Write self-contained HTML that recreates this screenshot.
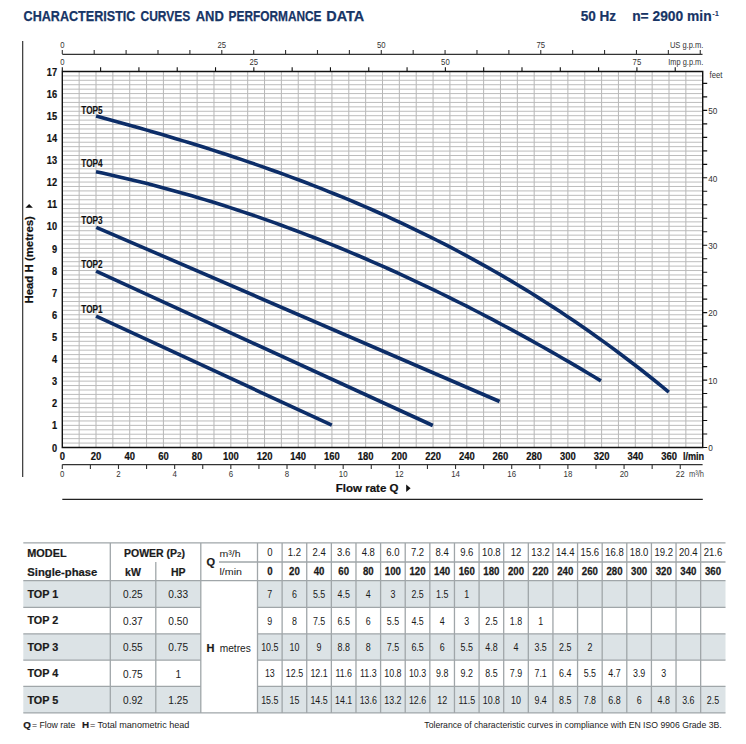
<!DOCTYPE html><html><head><meta charset="utf-8"><style>html,body{margin:0;padding:0;background:#fff;width:746px;height:744px;overflow:hidden}svg{display:block}text{font-family:"Liberation Sans",sans-serif}</style></head><body>
<svg width="746" height="744" viewBox="0 0 746 744">
<rect width="746" height="744" fill="#fff"/>
<text x="23.6" y="20.8" font-size="14.4" font-weight="bold" fill="#173566" stroke="#173566" stroke-width="0.25" textLength="111.8" lengthAdjust="spacingAndGlyphs">CHARACTERISTIC</text>
<text x="140.5" y="20.8" font-size="14.4" font-weight="bold" fill="#173566" stroke="#173566" stroke-width="0.25" textLength="49.8" lengthAdjust="spacingAndGlyphs">CURVES</text>
<text x="195.7" y="20.8" font-size="14.4" font-weight="bold" fill="#173566" stroke="#173566" stroke-width="0.25" textLength="28.1" lengthAdjust="spacingAndGlyphs">AND</text>
<text x="228.6" y="20.8" font-size="14.4" font-weight="bold" fill="#173566" stroke="#173566" stroke-width="0.25" textLength="92.9" lengthAdjust="spacingAndGlyphs">PERFORMANCE</text>
<text x="326.3" y="20.8" font-size="14.4" font-weight="bold" fill="#173566" stroke="#173566" stroke-width="0.25" textLength="37.9" lengthAdjust="spacingAndGlyphs">DATA</text>
<text x="580.7" y="20.6" font-size="13.8" font-weight="bold" fill="#173566" stroke="#173566" stroke-width="0.2" textLength="35.4" lengthAdjust="spacingAndGlyphs">50 Hz</text>
<text x="632.2" y="20.6" font-size="13.8" font-weight="bold" fill="#173566" stroke="#173566" stroke-width="0.2" textLength="79.4" lengthAdjust="spacingAndGlyphs">n= 2900 min</text>
<text x="712.3" y="15.8" font-size="7.5" font-weight="bold" fill="#173566">-1</text>
<line x1="22.65" y1="41" x2="22.65" y2="477" stroke="#444" stroke-width="1.3"/>
<path d="M79.15 71.46V447.50 M96.01 71.46V447.50 M112.86 71.46V447.50 M129.71 71.46V447.50 M146.56 71.46V447.50 M163.42 71.46V447.50 M180.27 71.46V447.50 M197.12 71.46V447.50 M213.98 71.46V447.50 M230.83 71.46V447.50 M247.68 71.46V447.50 M264.54 71.46V447.50 M281.39 71.46V447.50 M298.24 71.46V447.50 M315.10 71.46V447.50 M331.95 71.46V447.50 M348.80 71.46V447.50 M365.65 71.46V447.50 M382.51 71.46V447.50 M399.36 71.46V447.50 M416.21 71.46V447.50 M433.07 71.46V447.50 M449.92 71.46V447.50 M466.77 71.46V447.50 M483.62 71.46V447.50 M500.48 71.46V447.50 M517.33 71.46V447.50 M534.18 71.46V447.50 M551.04 71.46V447.50 M567.89 71.46V447.50 M584.74 71.46V447.50 M601.60 71.46V447.50 M618.45 71.46V447.50 M635.30 71.46V447.50 M652.15 71.46V447.50 M669.01 71.46V447.50 M685.86 71.46V447.50" stroke="#b3b3b3" stroke-width="0.95" fill="none"/>
<path d="M62.30 443.08H702.71 M62.30 438.65H702.71 M62.30 434.23H702.71 M62.30 429.80H702.71 M62.30 425.38H702.71 M62.30 420.96H702.71 M62.30 416.53H702.71 M62.30 412.11H702.71 M62.30 407.68H702.71 M62.30 403.26H702.71 M62.30 398.84H702.71 M62.30 394.41H702.71 M62.30 389.99H702.71 M62.30 385.56H702.71 M62.30 381.14H702.71 M62.30 376.72H702.71 M62.30 372.29H702.71 M62.30 367.87H702.71 M62.30 363.44H702.71 M62.30 359.02H702.71 M62.30 354.60H702.71 M62.30 350.17H702.71 M62.30 345.75H702.71 M62.30 341.32H702.71 M62.30 336.90H702.71 M62.30 332.48H702.71 M62.30 328.05H702.71 M62.30 323.63H702.71 M62.30 319.20H702.71 M62.30 314.78H702.71 M62.30 310.36H702.71 M62.30 305.93H702.71 M62.30 301.51H702.71 M62.30 297.08H702.71 M62.30 292.66H702.71 M62.30 288.24H702.71 M62.30 283.81H702.71 M62.30 279.39H702.71 M62.30 274.96H702.71 M62.30 270.54H702.71 M62.30 266.12H702.71 M62.30 261.69H702.71 M62.30 257.27H702.71 M62.30 252.84H702.71 M62.30 248.42H702.71 M62.30 244.00H702.71 M62.30 239.57H702.71 M62.30 235.15H702.71 M62.30 230.72H702.71 M62.30 226.30H702.71 M62.30 221.88H702.71 M62.30 217.45H702.71 M62.30 213.03H702.71 M62.30 208.60H702.71 M62.30 204.18H702.71 M62.30 199.76H702.71 M62.30 195.33H702.71 M62.30 190.91H702.71 M62.30 186.48H702.71 M62.30 182.06H702.71 M62.30 177.64H702.71 M62.30 173.21H702.71 M62.30 168.79H702.71 M62.30 164.36H702.71 M62.30 159.94H702.71 M62.30 155.52H702.71 M62.30 151.09H702.71 M62.30 146.67H702.71 M62.30 142.24H702.71 M62.30 137.82H702.71 M62.30 133.40H702.71 M62.30 128.97H702.71 M62.30 124.55H702.71 M62.30 120.12H702.71 M62.30 115.70H702.71 M62.30 111.28H702.71 M62.30 106.85H702.71 M62.30 102.43H702.71 M62.30 98.00H702.71 M62.30 93.58H702.71 M62.30 89.16H702.71 M62.30 84.73H702.71 M62.30 80.31H702.71 M62.30 75.88H702.71" stroke="#b8b8b8" stroke-width="0.95" fill="none"/>
<path d="M62.30 71.46H702.71V447.50H62.30Z" stroke="#111" stroke-width="1.4" fill="none"/>
<text transform="translate(57.1 451.60) scale(0.84 1)" text-anchor="end" font-size="11" font-weight="bold" fill="#111" stroke="#111" stroke-width="0.2">0</text>
<text transform="translate(57.1 429.48) scale(0.84 1)" text-anchor="end" font-size="11" font-weight="bold" fill="#111" stroke="#111" stroke-width="0.2">1</text>
<text transform="translate(57.1 407.36) scale(0.84 1)" text-anchor="end" font-size="11" font-weight="bold" fill="#111" stroke="#111" stroke-width="0.2">2</text>
<text transform="translate(57.1 385.24) scale(0.84 1)" text-anchor="end" font-size="11" font-weight="bold" fill="#111" stroke="#111" stroke-width="0.2">3</text>
<text transform="translate(57.1 363.12) scale(0.84 1)" text-anchor="end" font-size="11" font-weight="bold" fill="#111" stroke="#111" stroke-width="0.2">4</text>
<text transform="translate(57.1 341.00) scale(0.84 1)" text-anchor="end" font-size="11" font-weight="bold" fill="#111" stroke="#111" stroke-width="0.2">5</text>
<text transform="translate(57.1 318.88) scale(0.84 1)" text-anchor="end" font-size="11" font-weight="bold" fill="#111" stroke="#111" stroke-width="0.2">6</text>
<text transform="translate(57.1 296.76) scale(0.84 1)" text-anchor="end" font-size="11" font-weight="bold" fill="#111" stroke="#111" stroke-width="0.2">7</text>
<text transform="translate(57.1 274.64) scale(0.84 1)" text-anchor="end" font-size="11" font-weight="bold" fill="#111" stroke="#111" stroke-width="0.2">8</text>
<text transform="translate(57.1 252.52) scale(0.84 1)" text-anchor="end" font-size="11" font-weight="bold" fill="#111" stroke="#111" stroke-width="0.2">9</text>
<text transform="translate(57.1 230.40) scale(0.84 1)" text-anchor="end" font-size="11" font-weight="bold" fill="#111" stroke="#111" stroke-width="0.2">10</text>
<text transform="translate(57.1 208.28) scale(0.84 1)" text-anchor="end" font-size="11" font-weight="bold" fill="#111" stroke="#111" stroke-width="0.2">11</text>
<text transform="translate(57.1 186.16) scale(0.84 1)" text-anchor="end" font-size="11" font-weight="bold" fill="#111" stroke="#111" stroke-width="0.2">12</text>
<text transform="translate(57.1 164.04) scale(0.84 1)" text-anchor="end" font-size="11" font-weight="bold" fill="#111" stroke="#111" stroke-width="0.2">13</text>
<text transform="translate(57.1 141.92) scale(0.84 1)" text-anchor="end" font-size="11" font-weight="bold" fill="#111" stroke="#111" stroke-width="0.2">14</text>
<text transform="translate(57.1 119.80) scale(0.84 1)" text-anchor="end" font-size="11" font-weight="bold" fill="#111" stroke="#111" stroke-width="0.2">15</text>
<text transform="translate(57.1 97.68) scale(0.84 1)" text-anchor="end" font-size="11" font-weight="bold" fill="#111" stroke="#111" stroke-width="0.2">16</text>
<text transform="translate(57.1 75.56) scale(0.84 1)" text-anchor="end" font-size="11" font-weight="bold" fill="#111" stroke="#111" stroke-width="0.2">17</text>
<text transform="translate(62.30 459.8) scale(0.86 1)" text-anchor="middle" font-size="11" font-weight="bold" fill="#111" stroke="#111" stroke-width="0.2">0</text>
<text transform="translate(96.01 459.8) scale(0.86 1)" text-anchor="middle" font-size="11" font-weight="bold" fill="#111" stroke="#111" stroke-width="0.2">20</text>
<text transform="translate(129.71 459.8) scale(0.86 1)" text-anchor="middle" font-size="11" font-weight="bold" fill="#111" stroke="#111" stroke-width="0.2">40</text>
<text transform="translate(163.42 459.8) scale(0.86 1)" text-anchor="middle" font-size="11" font-weight="bold" fill="#111" stroke="#111" stroke-width="0.2">60</text>
<text transform="translate(197.12 459.8) scale(0.86 1)" text-anchor="middle" font-size="11" font-weight="bold" fill="#111" stroke="#111" stroke-width="0.2">80</text>
<text transform="translate(230.83 459.8) scale(0.86 1)" text-anchor="middle" font-size="11" font-weight="bold" fill="#111" stroke="#111" stroke-width="0.2">100</text>
<text transform="translate(264.54 459.8) scale(0.86 1)" text-anchor="middle" font-size="11" font-weight="bold" fill="#111" stroke="#111" stroke-width="0.2">120</text>
<text transform="translate(298.24 459.8) scale(0.86 1)" text-anchor="middle" font-size="11" font-weight="bold" fill="#111" stroke="#111" stroke-width="0.2">140</text>
<text transform="translate(331.95 459.8) scale(0.86 1)" text-anchor="middle" font-size="11" font-weight="bold" fill="#111" stroke="#111" stroke-width="0.2">160</text>
<text transform="translate(365.65 459.8) scale(0.86 1)" text-anchor="middle" font-size="11" font-weight="bold" fill="#111" stroke="#111" stroke-width="0.2">180</text>
<text transform="translate(399.36 459.8) scale(0.86 1)" text-anchor="middle" font-size="11" font-weight="bold" fill="#111" stroke="#111" stroke-width="0.2">200</text>
<text transform="translate(433.07 459.8) scale(0.86 1)" text-anchor="middle" font-size="11" font-weight="bold" fill="#111" stroke="#111" stroke-width="0.2">220</text>
<text transform="translate(466.77 459.8) scale(0.86 1)" text-anchor="middle" font-size="11" font-weight="bold" fill="#111" stroke="#111" stroke-width="0.2">240</text>
<text transform="translate(500.48 459.8) scale(0.86 1)" text-anchor="middle" font-size="11" font-weight="bold" fill="#111" stroke="#111" stroke-width="0.2">260</text>
<text transform="translate(534.18 459.8) scale(0.86 1)" text-anchor="middle" font-size="11" font-weight="bold" fill="#111" stroke="#111" stroke-width="0.2">280</text>
<text transform="translate(567.89 459.8) scale(0.86 1)" text-anchor="middle" font-size="11" font-weight="bold" fill="#111" stroke="#111" stroke-width="0.2">300</text>
<text transform="translate(601.60 459.8) scale(0.86 1)" text-anchor="middle" font-size="11" font-weight="bold" fill="#111" stroke="#111" stroke-width="0.2">320</text>
<text transform="translate(635.30 459.8) scale(0.86 1)" text-anchor="middle" font-size="11" font-weight="bold" fill="#111" stroke="#111" stroke-width="0.2">340</text>
<text transform="translate(669.01 459.8) scale(0.86 1)" text-anchor="middle" font-size="11" font-weight="bold" fill="#111" stroke="#111" stroke-width="0.2">360</text>
<text x="682.9" y="459.8" font-size="11" font-weight="bold" fill="#111" stroke="#111" stroke-width="0.2" textLength="21.3" lengthAdjust="spacingAndGlyphs">l/min</text>
<line x1="62.30" y1="464.6" x2="702.6" y2="464.6" stroke="#333" stroke-width="1.2"/>
<path d="M62.30 464.6V469 M90.39 464.6V469 M118.48 464.6V469 M146.56 464.6V469 M174.65 464.6V469 M202.74 464.6V469 M230.83 464.6V469 M258.92 464.6V469 M287.01 464.6V469 M315.10 464.6V469 M343.18 464.6V469 M371.27 464.6V469 M399.36 464.6V469 M427.45 464.6V469 M455.54 464.6V469 M483.63 464.6V469 M511.71 464.6V469 M539.80 464.6V469 M567.89 464.6V469 M595.98 464.6V469 M624.07 464.6V469 M652.15 464.6V469 M680.24 464.6V469" stroke="#333" stroke-width="1.1" fill="none"/>
<text transform="translate(62.30 477) scale(0.86 1)" text-anchor="middle" font-size="9.2" fill="#333">0</text>
<text transform="translate(118.48 477) scale(0.86 1)" text-anchor="middle" font-size="9.2" fill="#333">2</text>
<text transform="translate(174.65 477) scale(0.86 1)" text-anchor="middle" font-size="9.2" fill="#333">4</text>
<text transform="translate(230.83 477) scale(0.86 1)" text-anchor="middle" font-size="9.2" fill="#333">6</text>
<text transform="translate(287.01 477) scale(0.86 1)" text-anchor="middle" font-size="9.2" fill="#333">8</text>
<text transform="translate(343.18 477) scale(0.86 1)" text-anchor="middle" font-size="9.2" fill="#333">10</text>
<text transform="translate(399.36 477) scale(0.86 1)" text-anchor="middle" font-size="9.2" fill="#333">12</text>
<text transform="translate(455.54 477) scale(0.86 1)" text-anchor="middle" font-size="9.2" fill="#333">14</text>
<text transform="translate(511.71 477) scale(0.86 1)" text-anchor="middle" font-size="9.2" fill="#333">16</text>
<text transform="translate(567.89 477) scale(0.86 1)" text-anchor="middle" font-size="9.2" fill="#333">18</text>
<text transform="translate(624.07 477) scale(0.86 1)" text-anchor="middle" font-size="9.2" fill="#333">20</text>
<text transform="translate(680.24 477) scale(0.86 1)" text-anchor="middle" font-size="9.2" fill="#333">22</text>
<text x="689" y="477" font-size="9.2" fill="#444" textLength="15" lengthAdjust="spacingAndGlyphs">m³/h</text>
<text x="335.8" y="491.9" font-size="10.8" font-weight="bold" fill="#111" stroke="#111" stroke-width="0.2" textLength="62.7" lengthAdjust="spacingAndGlyphs">Flow rate  Q</text>
<path d="M406.2 484.6L410.6 488.3L406.2 492Z" fill="#111"/>
<line x1="62.30" y1="499.3" x2="702.8" y2="499.3" stroke="#222" stroke-width="1.3"/>
<line x1="62.30" y1="54.3" x2="702.5" y2="54.3" stroke="#333" stroke-width="1.2"/>
<path d="M62.30 54V50 M94.20 54V50 M126.10 54V50 M157.99 54V50 M189.89 54V50 M221.79 54V50 M253.69 54V50 M285.58 54V50 M317.48 54V50 M349.38 54V50 M381.28 54V50 M413.18 54V50 M445.07 54V50 M476.97 54V50 M508.87 54V50 M540.77 54V50 M572.66 54V50 M604.56 54V50 M636.46 54V50 M668.36 54V50 M700.26 54V50" stroke="#333" stroke-width="1.1" fill="none"/>
<text transform="translate(62.30 47.7) scale(0.86 1)" text-anchor="middle" font-size="9" fill="#333">0</text>
<text transform="translate(221.79 47.7) scale(0.86 1)" text-anchor="middle" font-size="9" fill="#333">25</text>
<text transform="translate(381.28 47.7) scale(0.86 1)" text-anchor="middle" font-size="9" fill="#333">50</text>
<text transform="translate(540.77 47.7) scale(0.86 1)" text-anchor="middle" font-size="9" fill="#333">75</text>
<text x="669.9" y="47.7" font-size="9" fill="#333" textLength="33.4" lengthAdjust="spacingAndGlyphs">US g.p.m.</text>
<path d="M62.30 71V67.3 M100.61 71V67.3 M138.92 71V67.3 M177.22 71V67.3 M215.53 71V67.3 M253.84 71V67.3 M292.15 71V67.3 M330.45 71V67.3 M368.76 71V67.3 M407.07 71V67.3 M445.38 71V67.3 M483.68 71V67.3 M521.99 71V67.3 M560.30 71V67.3 M598.61 71V67.3 M636.91 71V67.3 M675.22 71V67.3" stroke="#111" stroke-width="1.1" fill="none"/>
<text transform="translate(62.30 64.7) scale(0.86 1)" text-anchor="middle" font-size="9" fill="#333">0</text>
<text transform="translate(253.84 64.7) scale(0.86 1)" text-anchor="middle" font-size="9" fill="#333">25</text>
<text transform="translate(445.38 64.7) scale(0.86 1)" text-anchor="middle" font-size="9" fill="#333">50</text>
<text transform="translate(636.91 64.7) scale(0.86 1)" text-anchor="middle" font-size="9" fill="#333">75</text>
<text x="668.3" y="64.7" font-size="9" fill="#333" textLength="35" lengthAdjust="spacingAndGlyphs">Imp g.p.m.</text>
<path d="M702.71 447.50H707.2 M702.71 434.02H707.2 M702.71 420.53H707.2 M702.71 407.05H707.2 M702.71 393.56H707.2 M702.71 380.08H707.2 M702.71 366.59H707.2 M702.71 353.11H707.2 M702.71 339.63H707.2 M702.71 326.14H707.2 M702.71 312.66H707.2 M702.71 299.17H707.2 M702.71 285.69H707.2 M702.71 272.20H707.2 M702.71 258.72H707.2 M702.71 245.23H707.2 M702.71 231.75H707.2 M702.71 218.27H707.2 M702.71 204.78H707.2 M702.71 191.30H707.2 M702.71 177.81H707.2 M702.71 164.33H707.2 M702.71 150.84H707.2 M702.71 137.36H707.2 M702.71 123.88H707.2 M702.71 110.39H707.2 M702.71 96.91H707.2 M702.71 83.42H707.2" stroke="#111" stroke-width="1.1" fill="none"/>
<text transform="translate(708.2 451.30) scale(0.84 1)" font-size="9.8" fill="#333">0</text>
<text transform="translate(708.2 383.88) scale(0.84 1)" font-size="9.8" fill="#333">10</text>
<text transform="translate(708.2 316.46) scale(0.84 1)" font-size="9.8" fill="#333">20</text>
<text transform="translate(708.2 249.03) scale(0.84 1)" font-size="9.8" fill="#333">30</text>
<text transform="translate(708.2 181.61) scale(0.84 1)" font-size="9.8" fill="#333">40</text>
<text transform="translate(708.2 114.19) scale(0.84 1)" font-size="9.8" fill="#333">50</text>
<text x="709.6" y="78" font-size="9" fill="#333" textLength="12.8" lengthAdjust="spacingAndGlyphs">feet</text>
<text transform="translate(33 303.6) rotate(-90)" font-size="11.4" font-weight="bold" fill="#111" stroke="#111" stroke-width="0.2" textLength="87.5" lengthAdjust="spacingAndGlyphs">Head H (metres)</text>
<path d="M25.4 207.7L29.15 204.1L32.9 207.7Z" fill="#111"/>
<path d="M96.1 316.2L331.8 425.1" stroke="#0c2d68" stroke-width="3.6" fill="none"/>
<path d="M96.1 271.1L432.8 425.5" stroke="#0c2d68" stroke-width="3.6" fill="none"/>
<path d="M96.3 227.3L499.6 401.5" stroke="#0c2d68" stroke-width="3.6" fill="none"/>
<path d="M96.00 171.72 L102.39 173.08 L108.78 174.48 L115.17 175.92 L121.56 177.39 L127.96 178.89 L134.35 180.43 L140.74 182.01 L147.13 183.62 L153.52 185.26 L159.91 186.94 L166.30 188.65 L172.69 190.40 L179.08 192.18 L185.48 193.99 L191.87 195.84 L198.26 197.72 L204.65 199.64 L211.04 201.59 L217.43 203.57 L223.82 205.59 L230.21 207.64 L236.61 209.72 L243.00 211.84 L249.39 213.99 L255.78 216.17 L262.17 218.39 L268.56 220.64 L274.95 222.92 L281.34 225.23 L287.73 227.58 L294.13 229.96 L300.52 232.37 L306.91 234.82 L313.30 237.29 L319.69 239.80 L326.08 242.35 L332.47 244.92 L338.86 247.53 L345.25 250.16 L351.65 252.83 L358.04 255.53 L364.43 258.27 L370.82 261.03 L377.21 263.83 L383.60 266.65 L389.99 269.51 L396.38 272.40 L402.77 275.32 L409.17 278.27 L415.56 281.26 L421.95 284.27 L428.34 287.31 L434.73 290.39 L441.12 293.50 L447.51 296.63 L453.90 299.80 L460.29 303.00 L466.69 306.22 L473.08 309.48 L479.47 312.77 L485.86 316.09 L492.25 319.43 L498.64 322.81 L505.03 326.22 L511.42 329.66 L517.82 333.12 L524.21 336.62 L530.60 340.14 L536.99 343.70 L543.38 347.28 L549.77 350.90 L556.16 354.54 L562.55 358.21 L568.94 361.91 L575.34 365.64 L581.73 369.40 L588.12 373.18 L594.51 377.00 L600.90 380.84" stroke="#0c2d68" stroke-width="3.6" fill="none" stroke-linejoin="round"/>
<path d="M96.10 115.94 L103.35 117.91 L110.60 119.90 L117.85 121.91 L125.10 123.93 L132.35 125.98 L139.60 128.04 L146.85 130.12 L154.09 132.22 L161.34 134.34 L168.59 136.49 L175.84 138.66 L183.09 140.85 L190.34 143.07 L197.59 145.32 L204.84 147.59 L212.09 149.89 L219.34 152.22 L226.59 154.58 L233.84 156.98 L241.09 159.40 L248.34 161.86 L255.59 164.35 L262.84 166.87 L270.08 169.43 L277.33 172.03 L284.58 174.66 L291.83 177.33 L299.08 180.04 L306.33 182.80 L313.58 185.59 L320.83 188.42 L328.08 191.30 L335.33 194.22 L342.58 197.19 L349.83 200.20 L357.08 203.26 L364.33 206.37 L371.58 209.52 L378.83 212.73 L386.07 215.98 L393.32 219.29 L400.57 222.65 L407.82 226.06 L415.07 229.53 L422.32 233.05 L429.57 236.62 L436.82 240.26 L444.07 243.95 L451.32 247.70 L458.57 251.51 L465.82 255.38 L473.07 259.31 L480.32 263.30 L487.57 267.36 L494.82 271.48 L502.06 275.66 L509.31 279.92 L516.56 284.24 L523.81 288.62 L531.06 293.08 L538.31 297.60 L545.56 302.20 L552.81 306.87 L560.06 311.61 L567.31 316.42 L574.56 321.31 L581.81 326.28 L589.06 331.31 L596.31 336.43 L603.56 341.63 L610.81 346.90 L618.05 352.25 L625.30 357.69 L632.55 363.21 L639.80 368.80 L647.05 374.49 L654.30 380.25 L661.55 386.11 L668.80 392.05" stroke="#0c2d68" stroke-width="3.6" fill="none" stroke-linejoin="round"/>
<text x="81.3" y="113.5" font-size="10.4" font-weight="bold" fill="#111" stroke="#111" stroke-width="0.15" textLength="21.3" lengthAdjust="spacingAndGlyphs">TOP5</text>
<text x="81.3" y="166.9" font-size="10.4" font-weight="bold" fill="#111" stroke="#111" stroke-width="0.15" textLength="21.3" lengthAdjust="spacingAndGlyphs">TOP4</text>
<text x="81.3" y="224.1" font-size="10.4" font-weight="bold" fill="#111" stroke="#111" stroke-width="0.15" textLength="21.3" lengthAdjust="spacingAndGlyphs">TOP3</text>
<text x="81.3" y="268.0" font-size="10.4" font-weight="bold" fill="#111" stroke="#111" stroke-width="0.15" textLength="21.3" lengthAdjust="spacingAndGlyphs">TOP2</text>
<text x="81.3" y="312.8" font-size="10.4" font-weight="bold" fill="#111" stroke="#111" stroke-width="0.15" textLength="21.3" lengthAdjust="spacingAndGlyphs">TOP1</text>
<rect x="23.3" y="580.6" width="177.50" height="26.70" fill="#dce3e6"/>
<rect x="257.5" y="580.6" width="468.00" height="26.70" fill="#dce3e6"/>
<rect x="23.3" y="633.8" width="177.50" height="26.40" fill="#dce3e6"/>
<rect x="257.5" y="633.8" width="468.00" height="26.40" fill="#dce3e6"/>
<rect x="23.3" y="686.4" width="177.50" height="26.50" fill="#dce3e6"/>
<rect x="257.5" y="686.4" width="468.00" height="26.50" fill="#dce3e6"/>
<path d="M23.3 542.9H725.5 M219 562H725.5 M23.3 580.6H725.5 M23.3 607.3H200.8 M257.5 607.3H725.5 M23.3 633.8H200.8 M257.5 633.8H725.5 M23.3 660.2H200.8 M257.5 660.2H725.5 M23.3 686.4H200.8 M257.5 686.4H725.5 M23.3 712.9H725.5 M110.3 542.9V712.9 M155.8 562V712.9 M200.8 542.9V712.9 M257.50 542.9V712.9 M282.12 542.9V712.9 M306.74 542.9V712.9 M331.36 542.9V712.9 M355.98 542.9V712.9 M380.60 542.9V712.9 M405.22 542.9V712.9 M429.84 542.9V712.9 M454.46 542.9V712.9 M479.08 542.9V712.9 M503.70 542.9V712.9 M528.32 542.9V712.9 M552.94 542.9V712.9 M577.56 542.9V712.9 M602.18 542.9V712.9 M626.80 542.9V712.9 M651.42 542.9V712.9 M676.04 542.9V712.9 M700.66 542.9V712.9" stroke="#a0a6a9" stroke-width="1.3" fill="none"/>
<text x="27.3" y="556.7" font-size="10.5" font-weight="bold" fill="#1a1a1a" stroke="#1a1a1a" stroke-width="0.2" textLength="39.3" lengthAdjust="spacingAndGlyphs">MODEL</text>
<text x="27.3" y="575.5" font-size="10.5" font-weight="bold" fill="#1a1a1a" stroke="#1a1a1a" stroke-width="0.2" textLength="70" lengthAdjust="spacingAndGlyphs">Single-phase</text>
<text x="124" y="557.1" font-size="10.5" font-weight="bold" fill="#1a1a1a" stroke="#1a1a1a" stroke-width="0.2">POWER (P<tspan font-size="8">2</tspan>)</text>
<text x="132.95" y="575.8" text-anchor="middle" font-size="10.5" font-weight="bold" fill="#1a1a1a" stroke="#1a1a1a" stroke-width="0.2">kW</text>
<text x="178.2" y="575.8" text-anchor="middle" font-size="10.5" font-weight="bold" fill="#1a1a1a" stroke="#1a1a1a" stroke-width="0.2">HP</text>
<text x="210.7" y="566.4" text-anchor="middle" font-size="11" font-weight="bold" fill="#1a1a1a" stroke="#1a1a1a" stroke-width="0.2">Q</text>
<text x="219.5" y="556.5" font-size="9.8" fill="#1a1a1a" textLength="21" lengthAdjust="spacingAndGlyphs">m³/h</text>
<text x="219.5" y="574.7" font-size="9.8" fill="#1a1a1a" textLength="22.5" lengthAdjust="spacingAndGlyphs">l/min</text>
<text transform="translate(269.81 556.0) scale(0.9 1)" text-anchor="middle" font-size="10.6" fill="#1a1a1a">0</text>
<text transform="translate(269.81 574.8) scale(0.92 1)" text-anchor="middle" font-size="10.5" font-weight="bold" fill="#1a1a1a" stroke="#1a1a1a" stroke-width="0.25">0</text>
<text transform="translate(294.43 556.0) scale(0.9 1)" text-anchor="middle" font-size="10.6" fill="#1a1a1a">1.2</text>
<text transform="translate(294.43 574.8) scale(0.92 1)" text-anchor="middle" font-size="10.5" font-weight="bold" fill="#1a1a1a" stroke="#1a1a1a" stroke-width="0.25">20</text>
<text transform="translate(319.05 556.0) scale(0.9 1)" text-anchor="middle" font-size="10.6" fill="#1a1a1a">2.4</text>
<text transform="translate(319.05 574.8) scale(0.92 1)" text-anchor="middle" font-size="10.5" font-weight="bold" fill="#1a1a1a" stroke="#1a1a1a" stroke-width="0.25">40</text>
<text transform="translate(343.67 556.0) scale(0.9 1)" text-anchor="middle" font-size="10.6" fill="#1a1a1a">3.6</text>
<text transform="translate(343.67 574.8) scale(0.92 1)" text-anchor="middle" font-size="10.5" font-weight="bold" fill="#1a1a1a" stroke="#1a1a1a" stroke-width="0.25">60</text>
<text transform="translate(368.29 556.0) scale(0.9 1)" text-anchor="middle" font-size="10.6" fill="#1a1a1a">4.8</text>
<text transform="translate(368.29 574.8) scale(0.92 1)" text-anchor="middle" font-size="10.5" font-weight="bold" fill="#1a1a1a" stroke="#1a1a1a" stroke-width="0.25">80</text>
<text transform="translate(392.91 556.0) scale(0.9 1)" text-anchor="middle" font-size="10.6" fill="#1a1a1a">6.0</text>
<text transform="translate(392.91 574.8) scale(0.92 1)" text-anchor="middle" font-size="10.5" font-weight="bold" fill="#1a1a1a" stroke="#1a1a1a" stroke-width="0.25">100</text>
<text transform="translate(417.53 556.0) scale(0.9 1)" text-anchor="middle" font-size="10.6" fill="#1a1a1a">7.2</text>
<text transform="translate(417.53 574.8) scale(0.92 1)" text-anchor="middle" font-size="10.5" font-weight="bold" fill="#1a1a1a" stroke="#1a1a1a" stroke-width="0.25">120</text>
<text transform="translate(442.15 556.0) scale(0.9 1)" text-anchor="middle" font-size="10.6" fill="#1a1a1a">8.4</text>
<text transform="translate(442.15 574.8) scale(0.92 1)" text-anchor="middle" font-size="10.5" font-weight="bold" fill="#1a1a1a" stroke="#1a1a1a" stroke-width="0.25">140</text>
<text transform="translate(466.77 556.0) scale(0.9 1)" text-anchor="middle" font-size="10.6" fill="#1a1a1a">9.6</text>
<text transform="translate(466.77 574.8) scale(0.92 1)" text-anchor="middle" font-size="10.5" font-weight="bold" fill="#1a1a1a" stroke="#1a1a1a" stroke-width="0.25">160</text>
<text transform="translate(491.39 556.0) scale(0.9 1)" text-anchor="middle" font-size="10.6" fill="#1a1a1a">10.8</text>
<text transform="translate(491.39 574.8) scale(0.92 1)" text-anchor="middle" font-size="10.5" font-weight="bold" fill="#1a1a1a" stroke="#1a1a1a" stroke-width="0.25">180</text>
<text transform="translate(516.01 556.0) scale(0.9 1)" text-anchor="middle" font-size="10.6" fill="#1a1a1a">12</text>
<text transform="translate(516.01 574.8) scale(0.92 1)" text-anchor="middle" font-size="10.5" font-weight="bold" fill="#1a1a1a" stroke="#1a1a1a" stroke-width="0.25">200</text>
<text transform="translate(540.63 556.0) scale(0.9 1)" text-anchor="middle" font-size="10.6" fill="#1a1a1a">13.2</text>
<text transform="translate(540.63 574.8) scale(0.92 1)" text-anchor="middle" font-size="10.5" font-weight="bold" fill="#1a1a1a" stroke="#1a1a1a" stroke-width="0.25">220</text>
<text transform="translate(565.25 556.0) scale(0.9 1)" text-anchor="middle" font-size="10.6" fill="#1a1a1a">14.4</text>
<text transform="translate(565.25 574.8) scale(0.92 1)" text-anchor="middle" font-size="10.5" font-weight="bold" fill="#1a1a1a" stroke="#1a1a1a" stroke-width="0.25">240</text>
<text transform="translate(589.87 556.0) scale(0.9 1)" text-anchor="middle" font-size="10.6" fill="#1a1a1a">15.6</text>
<text transform="translate(589.87 574.8) scale(0.92 1)" text-anchor="middle" font-size="10.5" font-weight="bold" fill="#1a1a1a" stroke="#1a1a1a" stroke-width="0.25">260</text>
<text transform="translate(614.49 556.0) scale(0.9 1)" text-anchor="middle" font-size="10.6" fill="#1a1a1a">16.8</text>
<text transform="translate(614.49 574.8) scale(0.92 1)" text-anchor="middle" font-size="10.5" font-weight="bold" fill="#1a1a1a" stroke="#1a1a1a" stroke-width="0.25">280</text>
<text transform="translate(639.11 556.0) scale(0.9 1)" text-anchor="middle" font-size="10.6" fill="#1a1a1a">18.0</text>
<text transform="translate(639.11 574.8) scale(0.92 1)" text-anchor="middle" font-size="10.5" font-weight="bold" fill="#1a1a1a" stroke="#1a1a1a" stroke-width="0.25">300</text>
<text transform="translate(663.73 556.0) scale(0.9 1)" text-anchor="middle" font-size="10.6" fill="#1a1a1a">19.2</text>
<text transform="translate(663.73 574.8) scale(0.92 1)" text-anchor="middle" font-size="10.5" font-weight="bold" fill="#1a1a1a" stroke="#1a1a1a" stroke-width="0.25">320</text>
<text transform="translate(688.35 556.0) scale(0.9 1)" text-anchor="middle" font-size="10.6" fill="#1a1a1a">20.4</text>
<text transform="translate(688.35 574.8) scale(0.92 1)" text-anchor="middle" font-size="10.5" font-weight="bold" fill="#1a1a1a" stroke="#1a1a1a" stroke-width="0.25">340</text>
<text transform="translate(712.97 556.0) scale(0.9 1)" text-anchor="middle" font-size="10.6" fill="#1a1a1a">21.6</text>
<text transform="translate(712.97 574.8) scale(0.92 1)" text-anchor="middle" font-size="10.5" font-weight="bold" fill="#1a1a1a" stroke="#1a1a1a" stroke-width="0.25">360</text>
<text x="27.4" y="597.85" font-size="10.8" font-weight="bold" fill="#1a1a1a" stroke="#1a1a1a" stroke-width="0.2">TOP 1</text>
<text transform="translate(132.9 598.15) scale(0.92 1)" text-anchor="middle" font-size="11" fill="#1a1a1a">0.25</text>
<text transform="translate(178.2 598.15) scale(0.92 1)" text-anchor="middle" font-size="11" fill="#1a1a1a">0.33</text>
<text transform="translate(269.82 597.95) scale(0.87 1)" text-anchor="middle" font-size="10.2" fill="#1a1a1a">7</text>
<text transform="translate(294.44 597.95) scale(0.87 1)" text-anchor="middle" font-size="10.2" fill="#1a1a1a">6</text>
<text transform="translate(319.06 597.95) scale(0.87 1)" text-anchor="middle" font-size="10.2" fill="#1a1a1a">5.5</text>
<text transform="translate(343.68 597.95) scale(0.87 1)" text-anchor="middle" font-size="10.2" fill="#1a1a1a">4.5</text>
<text transform="translate(368.30 597.95) scale(0.87 1)" text-anchor="middle" font-size="10.2" fill="#1a1a1a">4</text>
<text transform="translate(392.92 597.95) scale(0.87 1)" text-anchor="middle" font-size="10.2" fill="#1a1a1a">3</text>
<text transform="translate(417.54 597.95) scale(0.87 1)" text-anchor="middle" font-size="10.2" fill="#1a1a1a">2.5</text>
<text transform="translate(442.16 597.95) scale(0.87 1)" text-anchor="middle" font-size="10.2" fill="#1a1a1a">1.5</text>
<text transform="translate(466.78 597.95) scale(0.87 1)" text-anchor="middle" font-size="10.2" fill="#1a1a1a">1</text>
<text x="27.4" y="624.45" font-size="10.8" font-weight="bold" fill="#1a1a1a" stroke="#1a1a1a" stroke-width="0.2">TOP 2</text>
<text transform="translate(132.9 624.75) scale(0.92 1)" text-anchor="middle" font-size="11" fill="#1a1a1a">0.37</text>
<text transform="translate(178.2 624.75) scale(0.92 1)" text-anchor="middle" font-size="11" fill="#1a1a1a">0.50</text>
<text transform="translate(269.82 624.55) scale(0.87 1)" text-anchor="middle" font-size="10.2" fill="#1a1a1a">9</text>
<text transform="translate(294.44 624.55) scale(0.87 1)" text-anchor="middle" font-size="10.2" fill="#1a1a1a">8</text>
<text transform="translate(319.06 624.55) scale(0.87 1)" text-anchor="middle" font-size="10.2" fill="#1a1a1a">7.5</text>
<text transform="translate(343.68 624.55) scale(0.87 1)" text-anchor="middle" font-size="10.2" fill="#1a1a1a">6.5</text>
<text transform="translate(368.30 624.55) scale(0.87 1)" text-anchor="middle" font-size="10.2" fill="#1a1a1a">6</text>
<text transform="translate(392.92 624.55) scale(0.87 1)" text-anchor="middle" font-size="10.2" fill="#1a1a1a">5.5</text>
<text transform="translate(417.54 624.55) scale(0.87 1)" text-anchor="middle" font-size="10.2" fill="#1a1a1a">4.5</text>
<text transform="translate(442.16 624.55) scale(0.87 1)" text-anchor="middle" font-size="10.2" fill="#1a1a1a">4</text>
<text transform="translate(466.78 624.55) scale(0.87 1)" text-anchor="middle" font-size="10.2" fill="#1a1a1a">3</text>
<text transform="translate(491.40 624.55) scale(0.87 1)" text-anchor="middle" font-size="10.2" fill="#1a1a1a">2.5</text>
<text transform="translate(516.02 624.55) scale(0.87 1)" text-anchor="middle" font-size="10.2" fill="#1a1a1a">1.8</text>
<text transform="translate(540.64 624.55) scale(0.87 1)" text-anchor="middle" font-size="10.2" fill="#1a1a1a">1</text>
<text x="27.4" y="650.90" font-size="10.8" font-weight="bold" fill="#1a1a1a" stroke="#1a1a1a" stroke-width="0.2">TOP 3</text>
<text transform="translate(132.9 651.20) scale(0.92 1)" text-anchor="middle" font-size="11" fill="#1a1a1a">0.55</text>
<text transform="translate(178.2 651.20) scale(0.92 1)" text-anchor="middle" font-size="11" fill="#1a1a1a">0.75</text>
<text transform="translate(269.82 651.00) scale(0.87 1)" text-anchor="middle" font-size="10.2" fill="#1a1a1a">10.5</text>
<text transform="translate(294.44 651.00) scale(0.87 1)" text-anchor="middle" font-size="10.2" fill="#1a1a1a">10</text>
<text transform="translate(319.06 651.00) scale(0.87 1)" text-anchor="middle" font-size="10.2" fill="#1a1a1a">9</text>
<text transform="translate(343.68 651.00) scale(0.87 1)" text-anchor="middle" font-size="10.2" fill="#1a1a1a">8.8</text>
<text transform="translate(368.30 651.00) scale(0.87 1)" text-anchor="middle" font-size="10.2" fill="#1a1a1a">8</text>
<text transform="translate(392.92 651.00) scale(0.87 1)" text-anchor="middle" font-size="10.2" fill="#1a1a1a">7.5</text>
<text transform="translate(417.54 651.00) scale(0.87 1)" text-anchor="middle" font-size="10.2" fill="#1a1a1a">6.5</text>
<text transform="translate(442.16 651.00) scale(0.87 1)" text-anchor="middle" font-size="10.2" fill="#1a1a1a">6</text>
<text transform="translate(466.78 651.00) scale(0.87 1)" text-anchor="middle" font-size="10.2" fill="#1a1a1a">5.5</text>
<text transform="translate(491.40 651.00) scale(0.87 1)" text-anchor="middle" font-size="10.2" fill="#1a1a1a">4.8</text>
<text transform="translate(516.02 651.00) scale(0.87 1)" text-anchor="middle" font-size="10.2" fill="#1a1a1a">4</text>
<text transform="translate(540.64 651.00) scale(0.87 1)" text-anchor="middle" font-size="10.2" fill="#1a1a1a">3.5</text>
<text transform="translate(565.26 651.00) scale(0.87 1)" text-anchor="middle" font-size="10.2" fill="#1a1a1a">2.5</text>
<text transform="translate(589.88 651.00) scale(0.87 1)" text-anchor="middle" font-size="10.2" fill="#1a1a1a">2</text>
<text x="27.4" y="677.20" font-size="10.8" font-weight="bold" fill="#1a1a1a" stroke="#1a1a1a" stroke-width="0.2">TOP 4</text>
<text transform="translate(132.9 677.50) scale(0.92 1)" text-anchor="middle" font-size="11" fill="#1a1a1a">0.75</text>
<text transform="translate(178.2 677.50) scale(0.92 1)" text-anchor="middle" font-size="11" fill="#1a1a1a">1</text>
<text transform="translate(269.82 677.30) scale(0.87 1)" text-anchor="middle" font-size="10.2" fill="#1a1a1a">13</text>
<text transform="translate(294.44 677.30) scale(0.87 1)" text-anchor="middle" font-size="10.2" fill="#1a1a1a">12.5</text>
<text transform="translate(319.06 677.30) scale(0.87 1)" text-anchor="middle" font-size="10.2" fill="#1a1a1a">12.1</text>
<text transform="translate(343.68 677.30) scale(0.87 1)" text-anchor="middle" font-size="10.2" fill="#1a1a1a">11.6</text>
<text transform="translate(368.30 677.30) scale(0.87 1)" text-anchor="middle" font-size="10.2" fill="#1a1a1a">11.3</text>
<text transform="translate(392.92 677.30) scale(0.87 1)" text-anchor="middle" font-size="10.2" fill="#1a1a1a">10.8</text>
<text transform="translate(417.54 677.30) scale(0.87 1)" text-anchor="middle" font-size="10.2" fill="#1a1a1a">10.3</text>
<text transform="translate(442.16 677.30) scale(0.87 1)" text-anchor="middle" font-size="10.2" fill="#1a1a1a">9.8</text>
<text transform="translate(466.78 677.30) scale(0.87 1)" text-anchor="middle" font-size="10.2" fill="#1a1a1a">9.2</text>
<text transform="translate(491.40 677.30) scale(0.87 1)" text-anchor="middle" font-size="10.2" fill="#1a1a1a">8.5</text>
<text transform="translate(516.02 677.30) scale(0.87 1)" text-anchor="middle" font-size="10.2" fill="#1a1a1a">7.9</text>
<text transform="translate(540.64 677.30) scale(0.87 1)" text-anchor="middle" font-size="10.2" fill="#1a1a1a">7.1</text>
<text transform="translate(565.26 677.30) scale(0.87 1)" text-anchor="middle" font-size="10.2" fill="#1a1a1a">6.4</text>
<text transform="translate(589.88 677.30) scale(0.87 1)" text-anchor="middle" font-size="10.2" fill="#1a1a1a">5.5</text>
<text transform="translate(614.50 677.30) scale(0.87 1)" text-anchor="middle" font-size="10.2" fill="#1a1a1a">4.7</text>
<text transform="translate(639.12 677.30) scale(0.87 1)" text-anchor="middle" font-size="10.2" fill="#1a1a1a">3.9</text>
<text transform="translate(663.74 677.30) scale(0.87 1)" text-anchor="middle" font-size="10.2" fill="#1a1a1a">3</text>
<text x="27.4" y="703.55" font-size="10.8" font-weight="bold" fill="#1a1a1a" stroke="#1a1a1a" stroke-width="0.2">TOP 5</text>
<text transform="translate(132.9 703.85) scale(0.92 1)" text-anchor="middle" font-size="11" fill="#1a1a1a">0.92</text>
<text transform="translate(178.2 703.85) scale(0.92 1)" text-anchor="middle" font-size="11" fill="#1a1a1a">1.25</text>
<text transform="translate(269.82 703.65) scale(0.87 1)" text-anchor="middle" font-size="10.2" fill="#1a1a1a">15.5</text>
<text transform="translate(294.44 703.65) scale(0.87 1)" text-anchor="middle" font-size="10.2" fill="#1a1a1a">15</text>
<text transform="translate(319.06 703.65) scale(0.87 1)" text-anchor="middle" font-size="10.2" fill="#1a1a1a">14.5</text>
<text transform="translate(343.68 703.65) scale(0.87 1)" text-anchor="middle" font-size="10.2" fill="#1a1a1a">14.1</text>
<text transform="translate(368.30 703.65) scale(0.87 1)" text-anchor="middle" font-size="10.2" fill="#1a1a1a">13.6</text>
<text transform="translate(392.92 703.65) scale(0.87 1)" text-anchor="middle" font-size="10.2" fill="#1a1a1a">13.2</text>
<text transform="translate(417.54 703.65) scale(0.87 1)" text-anchor="middle" font-size="10.2" fill="#1a1a1a">12.6</text>
<text transform="translate(442.16 703.65) scale(0.87 1)" text-anchor="middle" font-size="10.2" fill="#1a1a1a">12</text>
<text transform="translate(466.78 703.65) scale(0.87 1)" text-anchor="middle" font-size="10.2" fill="#1a1a1a">11.5</text>
<text transform="translate(491.40 703.65) scale(0.87 1)" text-anchor="middle" font-size="10.2" fill="#1a1a1a">10.8</text>
<text transform="translate(516.02 703.65) scale(0.87 1)" text-anchor="middle" font-size="10.2" fill="#1a1a1a">10</text>
<text transform="translate(540.64 703.65) scale(0.87 1)" text-anchor="middle" font-size="10.2" fill="#1a1a1a">9.4</text>
<text transform="translate(565.26 703.65) scale(0.87 1)" text-anchor="middle" font-size="10.2" fill="#1a1a1a">8.5</text>
<text transform="translate(589.88 703.65) scale(0.87 1)" text-anchor="middle" font-size="10.2" fill="#1a1a1a">7.8</text>
<text transform="translate(614.50 703.65) scale(0.87 1)" text-anchor="middle" font-size="10.2" fill="#1a1a1a">6.8</text>
<text transform="translate(639.12 703.65) scale(0.87 1)" text-anchor="middle" font-size="10.2" fill="#1a1a1a">6</text>
<text transform="translate(663.74 703.65) scale(0.87 1)" text-anchor="middle" font-size="10.2" fill="#1a1a1a">4.8</text>
<text transform="translate(688.36 703.65) scale(0.87 1)" text-anchor="middle" font-size="10.2" fill="#1a1a1a">3.6</text>
<text transform="translate(712.98 703.65) scale(0.87 1)" text-anchor="middle" font-size="10.2" fill="#1a1a1a">2.5</text>
<text x="206.5" y="652" font-size="11" font-weight="bold" fill="#1a1a1a" stroke="#1a1a1a" stroke-width="0.2">H</text>
<text x="219.7" y="652" font-size="10.4" fill="#1a1a1a" textLength="31.1" lengthAdjust="spacingAndGlyphs">metres</text>
<text x="23.2" y="727.8" font-size="9.8" font-weight="bold" fill="#1a1a1a" stroke="#1a1a1a" stroke-width="0.2">Q</text>
<text x="31.9" y="727.8" font-size="9.6" fill="#1a1a1a" textLength="43.4" lengthAdjust="spacingAndGlyphs">= Flow rate</text>
<text x="82" y="727.8" font-size="9.8" font-weight="bold" fill="#1a1a1a" stroke="#1a1a1a" stroke-width="0.2">H</text>
<text x="89.9" y="727.8" font-size="9.6" fill="#1a1a1a" textLength="99.5" lengthAdjust="spacingAndGlyphs">= Total manometric head</text>
<text x="424.3" y="728.0" font-size="9.8" fill="#1a1a1a" textLength="297.4" lengthAdjust="spacingAndGlyphs">Tolerance of characteristic curves in compliance with EN ISO 9906 Grade 3B.</text>
</svg></body></html>
